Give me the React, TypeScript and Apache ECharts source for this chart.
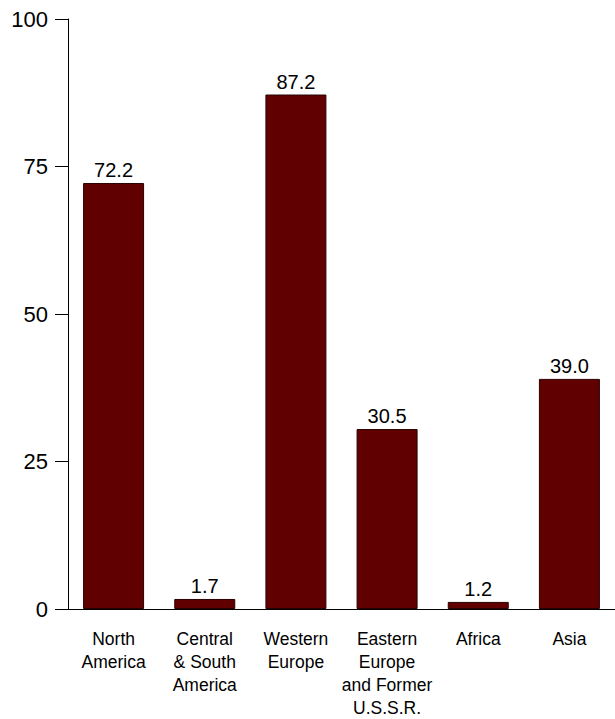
import React, { useEffect, useRef } from "react";
import * as echarts from "echarts";

const categories = [
  "North\nAmerica",
  "Central\n& South\nAmerica",
  "Western\nEurope",
  "Eastern\nEurope\nand Former\nU.S.S.R.",
  "Africa",
  "Asia",
];
const values = [72.2, 1.7, 87.2, 30.5, 1.2, 39.0];
const yTicks = { min: 0, max: 100, interval: 25 };

const FONT = "Arial, 'Liberation Sans', sans-serif";

export default function App() {
  const ref = useRef<HTMLDivElement>(null);
  useEffect(() => {
    if (!ref.current) return;
    const chart = echarts.init(ref.current, null, { renderer: "svg" });
    chart.setOption({
      animation: false,
      backgroundColor: "#ffffff",
      grid: { left: 68, right: 0, top: 19, bottom: 108 },
      xAxis: {
        type: "category",
        data: categories,
        axisLine: { show: true, lineStyle: { color: "#000", width: 1 } },
        axisTick: { show: false },
        axisLabel: {
          color: "#000",
          fontFamily: FONT,
          fontSize: 17.5,
          lineHeight: 23,
          margin: 18,
          interval: 0,
        },
      },
      yAxis: {
        type: "value",
        min: yTicks.min,
        max: yTicks.max,
        interval: yTicks.interval,
        splitLine: { show: false },
        axisLine: { show: true, lineStyle: { color: "#000", width: 1 } },
        axisTick: { show: true, length: 13, lineStyle: { color: "#000" } },
        axisLabel: {
          color: "#000",
          fontFamily: FONT,
          fontSize: 22,
          margin: 20,
        },
      },
      series: [
        {
          type: "bar",
          data: values,
          barWidth: 61,
          itemStyle: { color: "#600000", borderColor: "#2a0000", borderWidth: 1 },
          label: {
            show: true,
            position: "top",
            distance: 3,
            color: "#000",
            fontFamily: FONT,
            fontSize: 20,
            formatter: (p: any) => Number(p.value).toFixed(1),
          },
        },
      ],
    });
    return () => chart.dispose();
  }, []);
  return (
    <div
      ref={ref}
      style={{ position: "fixed", left: 0, top: 0, width: 615, height: 719 }}
    />
  );
}
